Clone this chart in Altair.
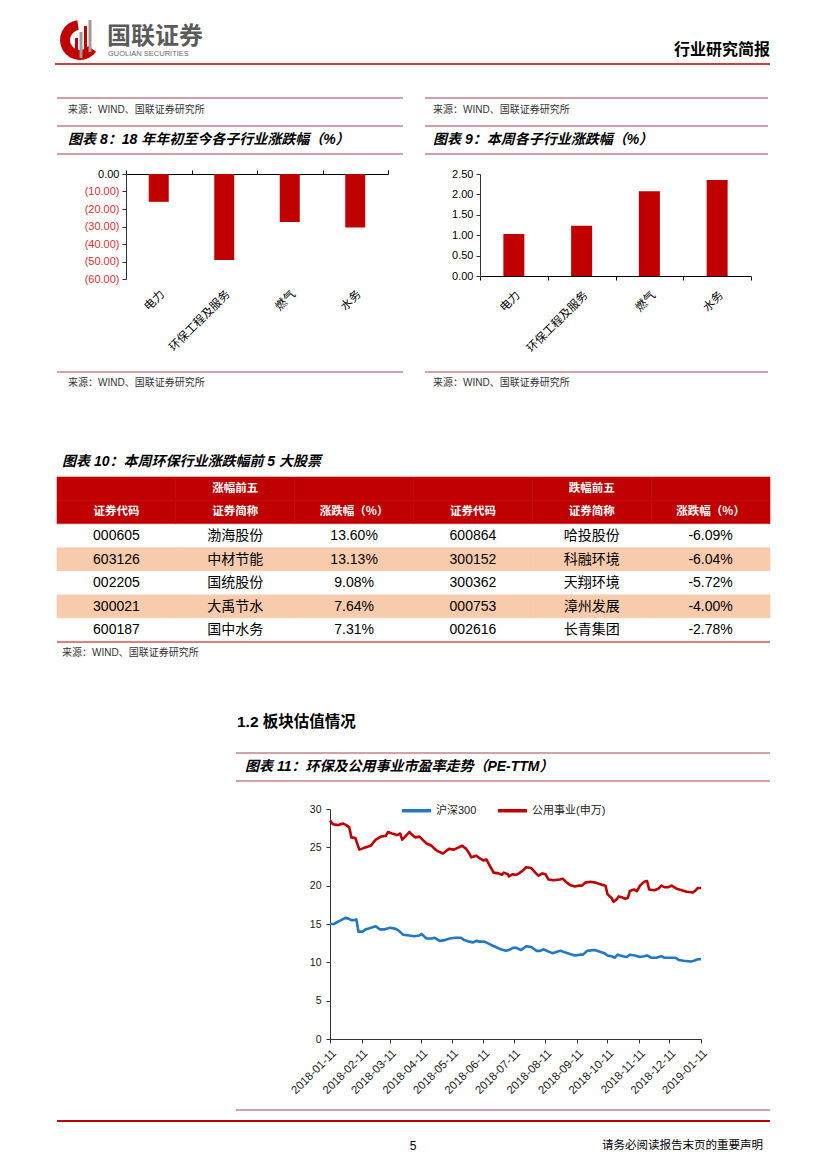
import altair as alt
import pandas as pd

# ---------------- data ----------------
sub_industries = ["电力", "环保工程及服务", "燃气", "水务"]
ytd_change = [-15.9, -49.1, -27.4, -30.5]
week_change = [1.03, 1.23, 2.08, 2.35]

group_titles = ["涨幅前五", "跌幅前五"]
col_titles = ["证券代码", "证券简称", "涨跌幅（%）"]
up_codes = ["000605", "603126", "002205", "300021", "600187"]
up_names = ["渤海股份", "中材节能", "国统股份", "大禹节水", "国中水务"]
up_pct = [13.60, 13.13, 9.08, 7.64, 7.31]
down_codes = ["600864", "300152", "300362", "000753", "002616"]
down_names = ["哈投股份", "科融环境", "天翔环境", "漳州发展", "长青集团"]
down_pct = [-6.09, -6.04, -5.72, -4.00, -2.78]

line_series = ["沪深300", "公用事业(申万)"]
start_date = "2018-01-11"
hs300_days = [0, 4, 8, 11, 15, 18, 21, 23, 26, 28, 32, 35, 38, 45, 49, 54, 59, 64, 67, 72,
              78, 83, 88, 90, 95, 100, 103, 108, 113, 118, 123, 129, 132, 137, 141, 144, 147,
              152, 158, 163, 168, 173, 176, 180, 183, 188, 193, 198, 203, 207, 210, 215, 219,
              224, 227, 231, 236, 241, 246, 249, 253, 260, 265, 270, 273, 277, 280, 283, 288,
              292, 295, 300, 305, 309, 312, 316, 321, 326, 329, 334, 340, 343, 348, 355, 358,
              362, 365]
hs300_pe = [15.0, 15.0, 15.3, 15.5, 15.8, 15.7, 15.5, 15.5, 15.6, 14.0, 14.0, 14.3, 14.4, 14.7,
            14.3, 14.3, 14.5, 14.4, 14.2, 13.6, 13.5, 13.4, 13.5, 13.7, 13.1, 13.1, 13.2, 12.8,
            12.9, 13.1, 13.2, 13.2, 12.9, 12.7, 12.6, 12.8, 12.7, 12.7, 12.3, 12.0, 11.7, 11.5,
            11.6, 11.9, 11.9, 11.6, 12.1, 12.0, 11.5, 11.5, 11.7, 11.4, 11.2, 11.4, 11.5, 11.3,
            11.1, 10.9, 11.0, 11.0, 11.5, 11.6, 11.4, 11.2, 10.9, 10.8, 10.6, 11.0, 10.8, 10.7,
            11.0, 10.9, 10.7, 10.8, 10.9, 10.6, 10.6, 10.8, 10.6, 10.6, 10.6, 10.3, 10.2, 10.1,
            10.2, 10.4, 10.4]
util_days = [0, 3, 8, 13, 16, 19, 21, 25, 28, 29, 33, 40, 45, 50, 55, 57, 61, 66, 69, 71, 74,
             78, 81, 84, 88, 91, 95, 100, 103, 106, 111, 113, 117, 122, 125, 130, 134, 137, 139,
             144, 147, 151, 154, 158, 161, 166, 169, 171, 175, 176, 180, 183, 186, 190, 193, 198,
             202, 205, 209, 212, 215, 220, 226, 229, 232, 236, 241, 244, 248, 251, 256, 261, 266,
             271, 273, 277, 279, 282, 284, 287, 290, 293, 295, 299, 302, 305, 309, 312, 314, 319,
             323, 326, 329, 333, 336, 341, 346, 351, 357, 359, 362, 365]
util_pe = [28.5, 28.0, 27.9, 28.1, 27.9, 27.6, 26.3, 26.2, 25.0, 24.7, 24.9, 25.2, 26.0, 26.4,
           26.5, 27.0, 26.8, 26.6, 26.8, 26.0, 26.4, 27.0, 26.6, 26.3, 26.4, 26.0, 25.5, 25.2,
           24.8, 24.5, 24.2, 24.4, 24.8, 24.7, 24.9, 25.2, 24.8, 24.2, 23.7, 23.9, 23.6, 23.3,
           23.4, 22.4, 21.7, 21.6, 21.4, 21.7, 21.5, 21.2, 21.5, 21.4, 21.6, 22.0, 22.4, 22.3,
           21.7, 21.3, 21.6, 21.5, 20.8, 20.7, 20.8, 20.9, 20.5, 20.1, 19.9, 20.0, 20.0, 20.4,
           20.5, 20.4, 20.2, 20.0, 18.9, 18.4, 17.9, 18.2, 18.6, 18.5, 18.3, 18.4, 19.3, 19.5,
           19.3, 20.0, 20.5, 20.6, 19.5, 19.4, 19.6, 20.0, 19.8, 19.8, 20.0, 19.6, 19.4, 19.2,
           19.1, 19.3, 19.7, 19.7]
month_ticks = ["2018-01-11", "2018-02-11", "2018-03-11", "2018-04-11", "2018-05-11",
               "2018-06-11", "2018-07-11", "2018-08-11", "2018-09-11", "2018-10-11",
               "2018-11-11", "2018-12-11", "2019-01-11"]

# ---------------- styles ----------------
CJK = "Noto Sans CJK SC"
LAT = "Liberation Sans"
MIX = "Liberation Sans, Noto Sans CJK SC"
RED = "#c00000"
PINK = "#c8808c"
BLUE = "#2378c4"
W = 811
BASE = pd.DataFrame({"k": [0]})


def txt(s, x, y, size, align="left", color="#000000", weight="normal", style="normal", font=MIX):
    return alt.Chart(BASE).mark_text(
        text=s, align=align, baseline="middle", fontSize=size, color=color,
        fontWeight=weight, fontStyle=style, font=font
    ).encode(x=alt.value(x), y=alt.value(y))


def hline(x1, x2, y, color=PINK, w=1.5):
    return alt.Chart(BASE).mark_rule(color=color, strokeWidth=w).encode(
        x=alt.value(x1), x2=alt.value(x2), y=alt.value(y))


def box(x1, x2, y1, y2, color):
    return alt.Chart(BASE).mark_rect(color=color).encode(
        x=alt.value(x1), x2=alt.value(x2), y=alt.value(y1), y2=alt.value(y2))


SRC = "来源：WIND、国联证券研究所"

# ---------------- row 1: header + chart titles ----------------
logo_arc = alt.Chart(BASE).mark_arc(radius=20, radius2=10, theta=2.2, theta2=6.15, color=RED).encode(
    x=alt.value(72), y=alt.value(32))
row1 = alt.layer(
    logo_arc,
    box(67, 70, 30, 50, RED), box(71.5, 74.5, 24, 50, "#9a9a9a"),
    box(76, 79, 18, 48, RED), box(80.5, 83.5, 12, 44, "#9a9a9a"),
    txt("国联证券", 99, 29, 24, color="#5b5b5b", weight="bold", font=CJK),
    txt("GUOLIAN SECURITIES", 100, 46, 7.5, color="#6b6b6b", font=LAT),
    txt("行业研究简报", 762, 42, 16, align="right", weight="bold", font=CJK),
    hline(47, 762, 56, RED, 1.5),
    hline(49, 395, 90), txt(SRC, 60, 102, 10, color="#333333"),
    hline(49, 395, 118),
    txt("图表 8：18 年年初至今各子行业涨跌幅（%）", 60, 132, 14, weight="bold", style="italic"),
    hline(49, 395, 146),
    hline(417, 760, 90), txt(SRC, 425, 102, 10, color="#333333"),
    hline(417, 760, 118),
    txt("图表 9：本周各子行业涨跌幅（%）", 425, 132, 14, weight="bold", style="italic"),
    hline(417, 760, 146),
).properties(width=W, height=166)

# ---------------- row 2: bar charts (one layer, independent scales) ----------------
df8 = pd.DataFrame({"ind": sub_industries, "v": ytd_change})
df9 = pd.DataFrame({"ind": sub_industries, "v": week_change})
x8_scale = alt.Scale(range=[118, 380], paddingInner=0, paddingOuter=0)
x9_scale = alt.Scale(range=[472, 743], paddingInner=0, paddingOuter=0)

bars8 = alt.Chart(df8).mark_bar(size=20, color=RED).encode(
    x=alt.X("ind:N", sort=sub_industries, scale=x8_scale, title=None,
            axis=alt.Axis(orient="bottom", domain=False, ticks=False, tickSize=0, offset=3,
                          labelAngle=-45, labelFont=CJK, labelFontSize=11.5,
                          labelColor="#000000", labelPadding=9, labelOverlap=False)),
    y=alt.Y("v:Q", scale=alt.Scale(domain=[-60, 0], nice=False, range=[105, 0]), title=None,
            axis=alt.Axis(orient="left", offset=-118, values=[0, -10, -20, -30, -40, -50, -60],
                          grid=False,
                          labelExpr="datum.value < 0 ? '(' + format(-datum.value, '.2f') + ')' : format(datum.value, '.2f')",
                          labelColor={"condition": {"test": "datum.value < 0", "value": "#e03030"},
                                      "value": "#000000"},
                          tickSize=4, domainColor="#333333", tickColor="#333333",
                          labelFont=LAT, labelFontSize=11, labelPadding=3)),
)
top8 = alt.Chart(df8).mark_bar(opacity=0).encode(
    x=alt.X("ind:N", sort=sub_industries, scale=x8_scale, title=None,
            axis=alt.Axis(orient="top", labels=False, domain=True, ticks=True, tickBand="extent",
                          tickSize=4, domainColor="#000000", tickColor="#000000")))
bars9 = alt.Chart(df9).mark_bar(size=21, color=RED).encode(
    x=alt.X("ind:N", sort=sub_industries, scale=x9_scale, title=None,
            axis=alt.Axis(orient="bottom", domain=True, ticks=True, tickBand="extent", tickSize=4,
                          labelAngle=-45, domainColor="#000000", tickColor="#000000",
                          labelFont=CJK, labelFontSize=11.5, labelColor="#000000",
                          labelPadding=9, labelOverlap=False)),
    y=alt.Y("v:Q", scale=alt.Scale(domain=[0, 2.5], nice=False, range=[102, 0]), title=None,
            axis=alt.Axis(orient="left", offset=-472, values=[0, 0.5, 1.0, 1.5, 2.0, 2.5],
                          format=".2f", grid=False, tickSize=4, domainColor="#333333",
                          tickColor="#333333", labelColor="#000000", labelFont=LAT,
                          labelFontSize=11, labelPadding=3)),
)
row2 = alt.layer(bars8, top8, bars9).resolve_scale(
    x="independent", y="independent").resolve_axis(
    x="independent", y="independent").properties(width=W, height=102)

# ---------------- row 3: chart sources + table title ----------------
row3 = alt.layer(
    hline(49, 395, 96), txt(SRC, 60, 107, 10, color="#333333"),
    hline(417, 760, 96), txt(SRC, 425, 107, 10, color="#333333"),
    txt("图表 10：本周环保行业涨跌幅前 5 大股票", 54, 186, 14, weight="bold", style="italic"),
).properties(width=W, height=201)

# ---------------- row 4: table ----------------
cell_recs = []
for c in range(6):
    for r in range(7):
        kind = "header" if r < 2 else ("band" if (r - 2) % 2 == 1 else "plain")
        cell_recs.append({"c": c, "r": r, "kind": kind})
cells = pd.DataFrame(cell_recs)

head_recs = [{"c": 1, "r": 0, "t": group_titles[0]}, {"c": 4, "r": 0, "t": group_titles[1]}]
head_recs += [{"c": i, "r": 1, "t": col_titles[i % 3]} for i in range(6)]
heads = pd.DataFrame(head_recs)

body_recs = []
for i in range(5):
    vals = [up_codes[i], up_names[i], f"{up_pct[i]:.2f}%",
            down_codes[i], down_names[i], f"{down_pct[i]:.2f}%"]
    for c, t in enumerate(vals):
        body_recs.append({"c": c, "r": i + 2, "t": t})
body = pd.DataFrame(body_recs)

tx = alt.X("c:O", scale=alt.Scale(domain=list(range(6)), range=[49, 762],
                                  paddingInner=0, paddingOuter=0), axis=None)
ty = alt.Y("r:O", scale=alt.Scale(domain=list(range(7)), paddingInner=0, paddingOuter=0), axis=None)
fill_scale = alt.Scale(domain=["header", "plain", "band"], range=[RED, "#ffffff", "#f8cbad"])

tbl_rect = alt.Chart(cells).mark_rect(strokeWidth=0.6).encode(
    x=tx, y=ty,
    color=alt.Color("kind:N", scale=fill_scale, legend=None),
    stroke=alt.Stroke("kind:N", scale=fill_scale, legend=None))
tbl_head = alt.Chart(heads).mark_text(font=CJK, fontSize=11.5, fontWeight="bold", color="#ffffff").encode(
    x=tx, y=ty, text="t:N")
tbl_body = alt.Chart(body).mark_text(font=MIX, fontSize=14, color="#000000").encode(
    x=tx, y=ty, text="t:N")
tbl_line = alt.Chart(BASE).mark_rule(color=RED, strokeWidth=1.2).encode(
    x=alt.value(49), x2=alt.value(762), y=alt.value(165))
row4 = alt.layer(tbl_rect, tbl_head, tbl_body, tbl_line).properties(width=W, height=165)

# ---------------- row 5: source, section title, chart 11 title ----------------
row5 = alt.layer(
    txt(SRC, 54, 11, 10, color="#333333"),
    txt("1.2 板块估值情况", 229, 80, 15.5, weight="bold"),
    hline(228, 762, 111),
    txt("图表 11：环保及公用事业市盈率走势（PE-TTM）", 237, 125, 14, weight="bold", style="italic"),
    hline(228, 762, 139),
).properties(width=W, height=167)

# ---------------- row 6: line chart ----------------
t0 = pd.Timestamp(start_date)
line_recs = []
for d, v in zip(hs300_days, hs300_pe):
    line_recs.append({"date": t0 + pd.Timedelta(days=d), "pe": v, "s": line_series[0]})
for d, v in zip(util_days, util_pe):
    line_recs.append({"date": t0 + pd.Timedelta(days=d), "pe": v, "s": line_series[1]})
df_line = pd.DataFrame(line_recs)

tick_dt = [alt.DateTime(year=int(s[:4]), month=int(s[5:7]), date=int(s[8:10])) for s in month_ticks]

row6 = alt.Chart(df_line).mark_line(strokeWidth=2.6, strokeJoin="round").encode(
    x=alt.X("date:T", title=None,
            scale=alt.Scale(domain=[tick_dt[0], tick_dt[-1]], range=[322, 693]),
            axis=alt.Axis(values=tick_dt, format="%Y-%m-%d", labelAngle=-45, grid=False,
                          tickSize=4, domainColor="#333333", tickColor="#333333",
                          labelColor="#1a1a1a", labelFont=LAT, labelFontSize=11.5,
                          labelPadding=4, labelOverlap=False, labelFlush=False)),
    y=alt.Y("pe:Q", title=None, scale=alt.Scale(domain=[0, 30], nice=False),
            axis=alt.Axis(orient="left", offset=-322, values=[0, 5, 10, 15, 20, 25, 30],
                          grid=False, tickSize=4, domainColor="#333333", tickColor="#333333",
                          labelColor="#1a1a1a", labelFont=LAT, labelFontSize=10.5,
                          labelPadding=5)),
    color=alt.Color("s:N", scale=alt.Scale(domain=line_series, range=[BLUE, RED]),
                    legend=alt.Legend(title=None, orient="none", legendX=392, legendY=-15,
                                      direction="horizontal", symbolType="stroke",
                                      symbolStrokeWidth=3.5, symbolSize=841,
                                      labelFont=MIX, labelFontSize=11, labelColor="#222222",
                                      columnPadding=14, labelOffset=3)),
    order=alt.Order("date:T"),
).properties(width=W, height=230)

# ---------------- row 7: footer ----------------
row7 = alt.layer(
    hline(228, 762, 71),
    hline(49, 762, 82, RED, 1.8),
    txt("5", 405, 107, 12, align="center", font=LAT),
    txt("请务必阅读报告末页的重要声明", 755, 107, 11.5, align="right", font=CJK),
).properties(width=W, height=122)

chart = alt.vconcat(row1, row2, row3, row4, row5, row6, row7, spacing=0, bounds="flush").resolve_scale(
    color="independent", stroke="independent"
).properties(
    padding=0, background="#ffffff"
).configure_view(stroke=None).configure_concat(spacing=0)

chart.save("out.html", embed_options={"renderer": "svg", "actions": False})
